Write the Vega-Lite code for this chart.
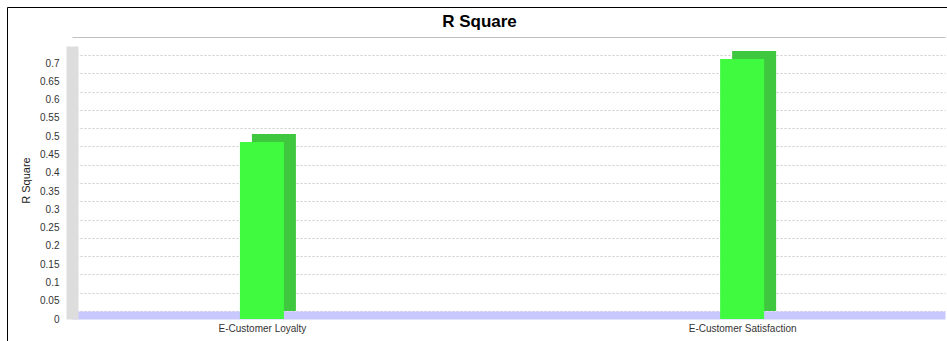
{
  "$schema": "https://vega.github.io/schema/vega-lite/v6.json",
  "autosize": "none",
  "width": 945,
  "height": 340,
  "padding": {"left": 7, "top": 7, "right": 0, "bottom": 0},
  "background": "white",
  "config": {"view": {"stroke": "#000000", "strokeWidth": 1}, "font": "Liberation Sans"},
  "title": {"text": "R Square", "fontSize": 17, "fontWeight": "bold", "color": "#000000", "anchor": "middle", "frame": "group", "offset": -24, "dx": 0},
  "data": {"values": [
    {"category": "E-Customer Loyalty", "rsq": 0.484},
    {"category": "E-Customer Satisfaction", "rsq": 0.711}
  ]},
  "layer": [
    {
      "mark": {"type": "bar", "size": 44, "color": "#3fc83f", "xOffset": 12, "yOffset": -8, "y2Offset": -8},
      "encoding": {
        "x": {"field": "category", "type": "nominal", "sort": null,
          "scale": {"type": "point", "range": [65, 938], "padding": 0.409, "align": 0.4835},
          "axis": {"orient": "top", "offset": -30, "labels": false, "ticks": false, "grid": false, "title": null, "domainColor": "#c0c0c0", "domainWidth": 1}},
        "y": {"field": "rsq", "type": "quantitative",
          "scale": {"domain": [0, 0.7466], "range": [312, 39], "nice": false, "zero": true},
          "axis": null}
      }
    },
    {
      "mark": {"type": "bar", "size": 44, "color": "#40fa40"},
      "encoding": {
        "x": {"field": "category", "type": "nominal", "sort": null,
          "axis": {"orient": "bottom", "offset": -32, "title": null, "ticks": false, "tickSize": 0, "labelPadding": 8, "labelAngle": 0, "labelFontSize": 10, "labelColor": "#333333", "domainColor": "#c8c8ff", "domainWidth": 8, "grid": false}},
        "y": {"field": "rsq", "type": "quantitative",
          "axis": {"title": "R Square", "titleFontSize": 11, "titleFontWeight": "normal", "titleColor": "#222222",
            "offset": -65, "domainColor": "#dddddd", "domainWidth": 12, "ticks": false, "tickSize": 0, "labelPadding": 13,
            "values": [0, 0.05, 0.1, 0.15, 0.2, 0.25, 0.3, 0.35, 0.4, 0.45, 0.5, 0.55, 0.6, 0.65, 0.7],
            "format": "~g", "labelFontSize": 10, "labelColor": "#333333", "labelOverlap": false,
            "grid": true, "gridColor": "#cccccc", "gridDash": [2, 2], "tickOffset": -8, "labelOffset": 8,
            "titleX": -46, "titleY": 173, "titleAlign": "center", "titleBaseline": "middle", "titleAngle": -90}}
      }
    }
  ],
  "resolve": {"axis": {"x": "independent", "y": "independent"}}
}
